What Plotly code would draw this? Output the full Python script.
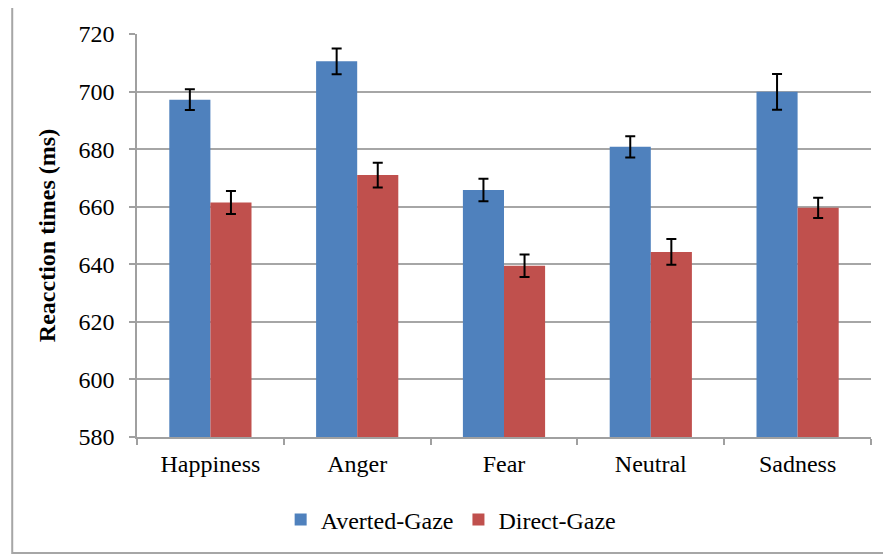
import plotly.graph_objects as go

categories = ["Happiness", "Anger", "Fear", "Neutral", "Sadness"]
averted = [697.2, 710.5, 665.8, 680.8, 699.9]
averted_err = [3.6, 4.5, 3.9, 3.7, 6.2]
direct = [661.5, 671.0, 639.5, 644.3, 659.6]
direct_err = [4.0, 4.3, 3.9, 4.5, 3.5]
yticks = [580, 600, 620, 640, 660, 680, 700, 720]

font_family = "Liberation Serif, Times New Roman, serif"

fig = go.Figure()
fig.add_trace(go.Bar(
    x=categories, y=averted, name="Averted-Gaze",
    marker=dict(color="#4F81BD", line=dict(width=0)),
    error_y=dict(type="data", array=averted_err, color="black", thickness=2, width=5),
))
fig.add_trace(go.Bar(
    x=categories, y=direct, name="Direct-Gaze",
    marker=dict(color="#C0504D", line=dict(width=0)),
    error_y=dict(type="data", array=direct_err, color="black", thickness=2, width=5),
))

# page body has an 8px margin, so margins are offset by -8 to land the plot area in place
fig.update_layout(
    width=891, height=555,
    margin=dict(l=129, r=28, t=26, b=126, autoexpand=False),
    paper_bgcolor="white", plot_bgcolor="white",
    barmode="group", bargap=0.44, bargroupgap=0,
    font=dict(family=font_family, size=24, color="black"),
    showlegend=True,
    legend=dict(orientation="h", x=0.428, xanchor="center", y=-0.206, yanchor="middle",
                font=dict(size=24), itemwidth=30, traceorder="normal"),
    shapes=[dict(type="rect", xref="paper", yref="paper",
                 x0=-0.170, x1=1.06, y0=-0.288, y1=1.0695,
                 line=dict(color="#a6a6a6", width=2), fillcolor="rgba(0,0,0,0)", layer="below")],
)

fig.update_xaxes(
    type="category", showline=True, linecolor="#a0a0a0", linewidth=1.5,
    ticks="outside", tickson="boundaries", ticklen=6, tickcolor="#a0a0a0", tickwidth=1.5,
    showgrid=False, tickfont=dict(size=24), ticklabelstandoff=4,
)
fig.update_yaxes(
    range=[580, 720], tickvals=yticks, showline=True, linecolor="#a0a0a0", linewidth=1.5,
    ticks="outside", ticklen=6, tickcolor="#a0a0a0", tickwidth=1.5,
    showgrid=True, gridcolor="#a6a6a6", gridwidth=1.5, zeroline=False,
    tickfont=dict(size=24), ticklabelstandoff=10,
    title=dict(text="<b>Reacction times (ms)</b>", font=dict(size=24), standoff=16),
)

fig.write_html("out.html")
